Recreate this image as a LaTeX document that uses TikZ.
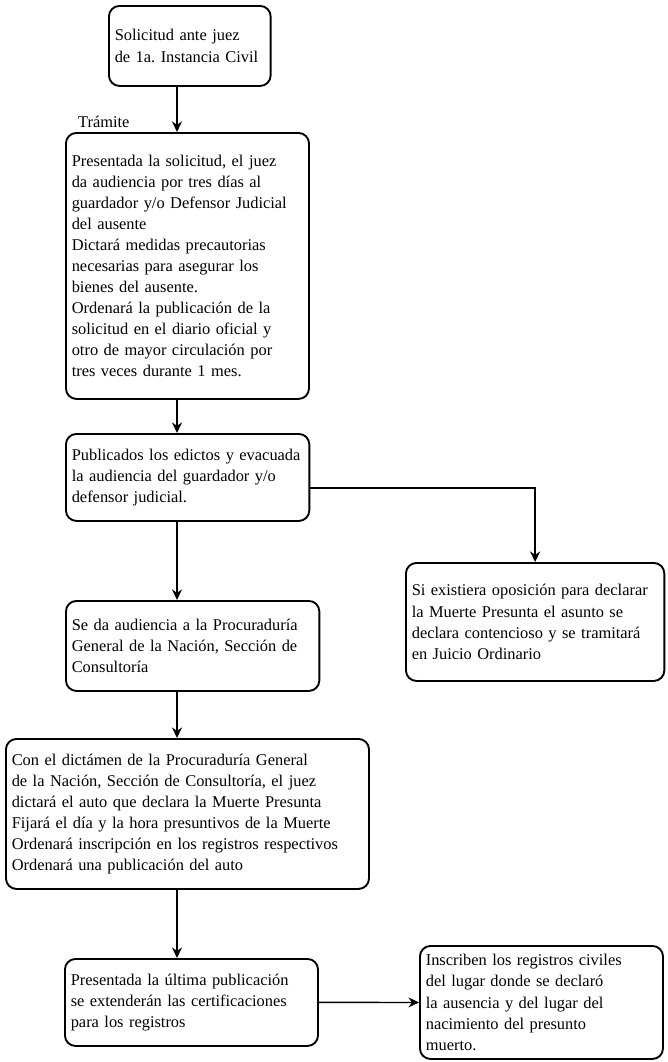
\documentclass[tikz,border=0pt]{standalone}
\usepackage{fontspec}
\setmainfont{Liberation Serif}
\usetikzlibrary{positioning,arrows.meta}
\frenchspacing

\begin{document}
\begin{tikzpicture}[x=0.03cm,y=-0.03cm,
   box/.style={draw,rounded corners=9pt,line width=1.6pt,align=left,
      inner xsep=5pt,inner ysep=4pt,font=\fontsize{14}{18}\selectfont},
   arr/.style={-{Stealth[length=9pt,width=8.5pt]},line width=1.2pt}]
   \useasboundingbox (0,0) rectangle (667,1062);
   \coordinate (col) at (177,0);
   \node[box,anchor=north west,text width=4.5cm,minimum height=2.4cm] (solic) at (108,5)
      {Solicitud ante juez\\de 1a. Instancia Civil};
   \node[anchor=base west,font=\fontsize{14}{18}\selectfont] (tramite) at (74,127) {Trámite};
   \node[box,anchor=north west,text width=6.94cm,minimum height=7.98cm] (present) at (65,132)
      {Presentada la solicitud, el juez\\da audiencia por tres días al\\guardador y/o Defensor Judicial\\del ausente\\Dictará medidas precautorias\\necesarias para asegurar los\\bienes del ausente.\\Ordenará la publicación de la\\solicitud en el diario oficial y\\otro de mayor circulación por\\tres veces durante 1 mes.};
   \node[box,anchor=north west,text width=6.95cm,minimum height=2.61cm] (edictos) at (65,433)
      {Publicados los edictos y evacuada\\la audiencia del guardador y/o\\defensor judicial.};
   \node[box,anchor=north west,text width=7.4cm,minimum height=3.54cm] (oposic) at (405,562)
      {Si existiera oposición para declarar\\la Muerte Presunta el asunto se\\declara contencioso y se tramitará\\en Juicio Ordinario};
   \node[box,anchor=north west,text width=7.25cm,minimum height=2.7cm] (procur) at (65,600)
      {Se da audiencia a la Procuraduría\\General de la Nación, Sección de\\Consultoría};
   \node[box,anchor=north west,text width=10.54cm,minimum height=4.5cm] (dictamen) at (5,738)
      {Con el dictámen de la Procuraduría General\\de la Nación, Sección de Consultoría, el juez\\dictará el auto que declara la Muerte Presunta\\Fijará el día y la hora presuntivos de la Muerte\\Ordenará inscripción en los registros respectivos\\Ordenará una publicación del auto};
   \node[box,anchor=north west,text width=7.24cm,minimum height=2.61cm] (ultima) at (64,958)
      {Presentada la última publicación\\se extenderán las certificaciones\\para los registros};
   \node[box,anchor=north west,text width=6.94cm,minimum height=3.39cm] (inscrib) at (419,945)
      {Inscriben los registros civiles\\del lugar donde se declaró\\la ausencia y del lugar del\\nacimiento del presunto\\muerto.};
   % flechas
   \draw[arr] (solic.south -| col) -- (present.north -| col);
   \draw[arr] (present.south -| col) -- (edictos.north -| col);
   \draw[arr] (edictos.south -| col) -- (procur.north -| col);
   \draw[arr] (procur.south -| col) -- (dictamen.north -| col);
   \draw[arr] (dictamen.south -| col) -- (ultima.north -| col);
   \draw[arr] ([yshift=-0.315cm]edictos.east) -| (oposic.north);
   \draw[arr] (ultima) -- (inscrib);
\end{tikzpicture}
\end{document}
